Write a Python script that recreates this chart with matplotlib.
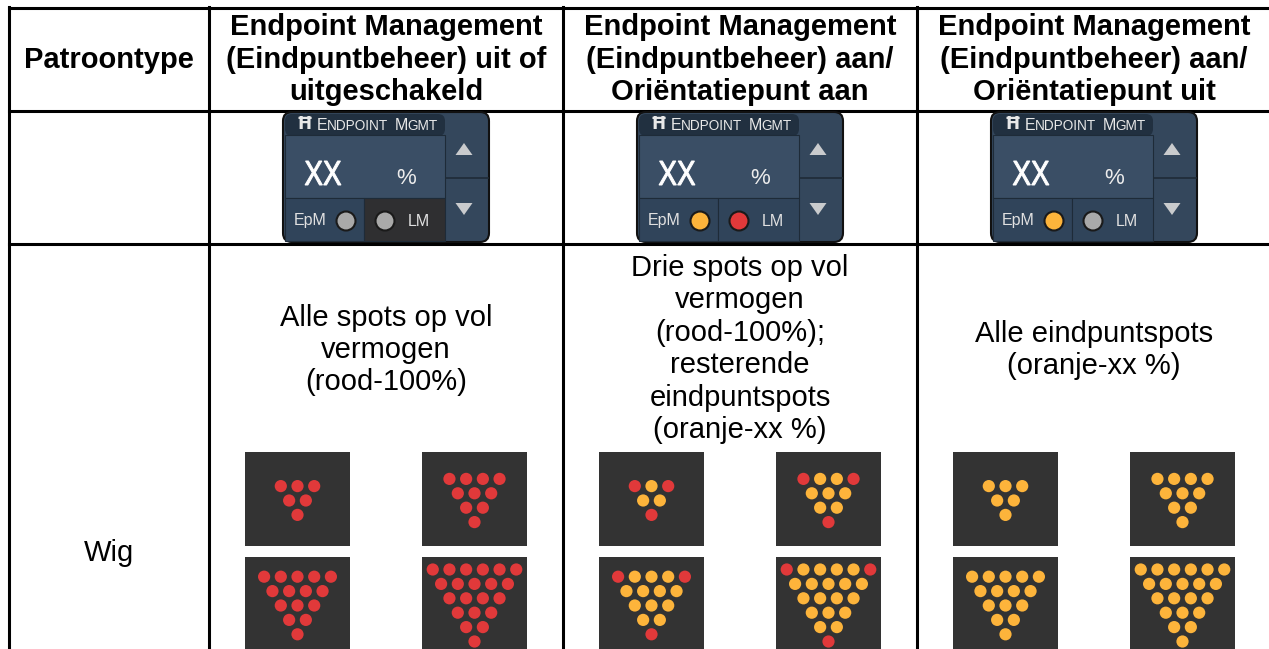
import numpy as np
import matplotlib.pyplot as plt
from matplotlib.patches import Rectangle, FancyBboxPatch, Circle, Polygon, PathPatch
from matplotlib.textpath import TextPath
from matplotlib.font_manager import FontProperties
from matplotlib.transforms import Affine2D

# ---- data ----
header_first = 'Patroontype'
row_label = 'Wig'
col_headers = [
    ['Endpoint Management', '(Eindpuntbeheer) uit of', 'uitgeschakeld'],
    ['Endpoint Management', '(Eindpuntbeheer) aan/', 'Oriëntatiepunt aan'],
    ['Endpoint Management', '(Eindpuntbeheer) aan/', 'Oriëntatiepunt uit'],
]
col_texts = [
    ['Alle spots op vol', 'vermogen', '(rood-100%)'],
    ['Drie spots op vol', 'vermogen', '(rood-100%);', 'resterende', 'eindpuntspots', '(oranje-xx %)'],
    ['Alle eindpuntspots', '(oranje-xx %)'],
]
text_mid_y = [350, 349, 350]
# widget lamp states (EpM, LM) and LM background
epm_state = ['off', 'orange', 'orange']
lm_state = ['off', 'red', 'off']
lm_dark = [True, False, False]
# wedge patterns: spots per row, top to bottom
patterns = [[3, 2, 1], [4, 3, 2, 1], [5, 4, 3, 2, 1], [6, 5, 4, 3, 2, 1]]
# spot colouring per column: 'red', 'corners', 'orange'
spot_modes = ['red', 'corners', 'orange']

RED = '#e1393a'
ORANGE = '#fdb43b'
GREY = '#a9a9a9'
lamp_col = {'off': GREY, 'orange': ORANGE, 'red': RED}

fig = plt.figure(figsize=(12.69, 6.49), dpi=100)
ax = fig.add_axes([0, 0, 1, 1])
ax.set_xlim(0, 1269)
ax.set_ylim(649, 0)
ax.axis('off')

col_x = [9, 209, 563, 917, 1271]
row_y = [8, 111, 244, 700]
lw = 2.2
for x in col_x:
    ax.plot([x, x], [row_y[0] - 1, row_y[-1]], color='black', lw=lw, solid_capstyle='projecting')
for y in row_y[:-1]:
    ax.plot([col_x[0], col_x[-1]], [y, y], color='black', lw=lw, solid_capstyle='projecting')

font = 'Liberation Sans'
fs = 21
line_h = 32.5

ax.text((col_x[0] + col_x[1]) / 2, 60, header_first, fontsize=fs, fontweight='bold',
        family=font, ha='center', va='center')
ax.text((col_x[0] + col_x[1]) / 2, 553, row_label, fontsize=fs, family=font,
        ha='center', va='center')

centers = [(col_x[i + 1] + col_x[i + 2]) / 2 for i in range(3)]

xx_path = TextPath((0, 0), 'XX', size=10, prop=FontProperties(family=font))
xx_ext = xx_path.get_extents()


def draw_widget(cx, k):
    x0 = cx - 105
    y0 = 111
    W, H = 210, 132
    ax.add_patch(FancyBboxPatch((x0 + 2, y0 + 1), W - 4, H - 2, boxstyle='round,pad=0,rounding_size=9',
                                fc='#34475c', ec='#111111', lw=1.5, zorder=2))
    # header strip
    ax.add_patch(FancyBboxPatch((x0 + 4, y0 + 3), 160, 22, boxstyle='round,pad=0,rounding_size=7',
                                fc='#213040', ec='none', zorder=3))
    # display
    ax.add_patch(Rectangle((x0 + 4, y0 + 24), 160, 63, fc='#3a4e65', ec='#1e2b38', lw=0.8, zorder=3))
    # bottom sections
    ax.add_patch(Rectangle((x0 + 4, y0 + 87), 79, 43, fc='#30445a', ec='#1e2b38', lw=0.8, zorder=3))
    ax.add_patch(Rectangle((x0 + 83, y0 + 87), 81, 43,
                           fc='#2f2f31' if lm_dark[k] else '#30445a', ec='#1e2b38', lw=0.8, zorder=3))
    # right column divider and arrows
    ax.plot([x0 + 165, x0 + 207], [y0 + 67, y0 + 67], color='#1f2b37', lw=1.2, zorder=3)
    ax.add_patch(Polygon([[x0 + 174.5, y0 + 44], [x0 + 191.5, y0 + 44], [x0 + 183, y0 + 32]],
                         closed=True, fc='#c9cbcd', ec='none', zorder=4))
    ax.add_patch(Polygon([[x0 + 174.5, y0 + 92], [x0 + 191.5, y0 + 92], [x0 + 183, y0 + 104]],
                         closed=True, fc='#c9cbcd', ec='none', zorder=4))
    # header text (small caps look)
    ax.text(x0 + 16, y0 + 13, 'Ħ', fontsize=12, color='#e8e8e8', fontweight='bold',
            family='DejaVu Sans', ha='left', va='center', zorder=5)
    ax.text(x0 + 36, y0 + 14, 'E', fontsize=11.5, color='#e8e8e8', family=font,
            ha='left', va='center', zorder=5)
    ax.text(x0 + 46, y0 + 15, 'NDPOINT', fontsize=9.8, color='#e8e8e8', family=font,
            ha='left', va='center', zorder=5)
    ax.text(x0 + 114, y0 + 14, 'M', fontsize=11.5, color='#e8e8e8', family=font,
            ha='left', va='center', zorder=5)
    ax.text(x0 + 126, y0 + 15, 'GMT', fontsize=9.8, color='#e8e8e8', family=font,
            ha='left', va='center', zorder=5)
    # value text "XX" drawn condensed
    w_t, h_t = 36, 24
    sx = w_t / xx_ext.width
    sy = h_t / xx_ext.height
    tr = Affine2D().translate(-xx_ext.x0, -xx_ext.y0).scale(sx, -sy).translate(x0 + 42 - w_t / 2, y0 + 62 + h_t / 2)
    ax.add_patch(PathPatch(tr.transform_path(xx_path), fc='white', ec='white', lw=0.7, zorder=5))
    ax.text(x0 + 125, y0 + 67, '%', fontsize=16, color='#ececec', family=font,
            ha='center', va='center', zorder=5)
    ax.text(x0 + 29, y0 + 110, 'EpM', fontsize=11.5, color='#e0e0e0', family=font,
            ha='center', va='center', zorder=5)
    ax.text(x0 + 138, y0 + 110, 'LM', fontsize=11.5, color='#e0e0e0', family=font,
            ha='center', va='center', zorder=5)
    ax.add_patch(Circle((x0 + 65, y0 + 110), 9.5, fc=lamp_col[epm_state[k]], ec='#1a1a1a', lw=1.5, zorder=5))
    ax.add_patch(Circle((x0 + 104, y0 + 110), 9.5, fc=lamp_col[lm_state[k]], ec='#1a1a1a', lw=1.5, zorder=5))


def spot_color(mode, r, c, n):
    if mode == 'red':
        return RED
    if mode == 'orange':
        return ORANGE
    if r == 0 and (c == 0 or c == n - 1):
        return RED
    if n == 1:
        return RED
    return ORANGE


box_w, box_h = 105, 94
box_tops = [452, 557]
dx, dy, rad = 16.7, 14.4, 6.1

for k, cx in enumerate(centers):
    # headers
    for j, line in enumerate(col_headers[k]):
        ax.text(cx, 27 + j * line_h, line, fontsize=fs, fontweight='bold', family=font,
                ha='center', va='center')
    draw_widget(cx, k)
    lines = col_texts[k]
    start = text_mid_y[k] - (len(lines) - 1) * line_h / 2
    for j, line in enumerate(lines):
        ax.text(cx, start + j * line_h, line, fontsize=fs, family=font, ha='center', va='center')
    # spot boxes
    for p, pat in enumerate(patterns):
        bx = cx + (-88.5 if p % 2 == 0 else 88.5)
        by = box_tops[p // 2]
        ax.add_patch(Rectangle((bx - box_w / 2, by), box_w, box_h, fc='#333333', ec='none', zorder=2))
        nrows = len(pat)
        cy = by + 48.5
        for r, n in enumerate(pat):
            yy = cy + (r - (nrows - 1) / 2) * dy
            for c in range(n):
                xx = bx + (c - (n - 1) / 2) * dx
                ax.add_patch(Circle((xx, yy), rad, fc=spot_color(spot_modes[k], r, c, n),
                                    ec='none', zorder=3))

fig.savefig('out.png', dpi=100)
